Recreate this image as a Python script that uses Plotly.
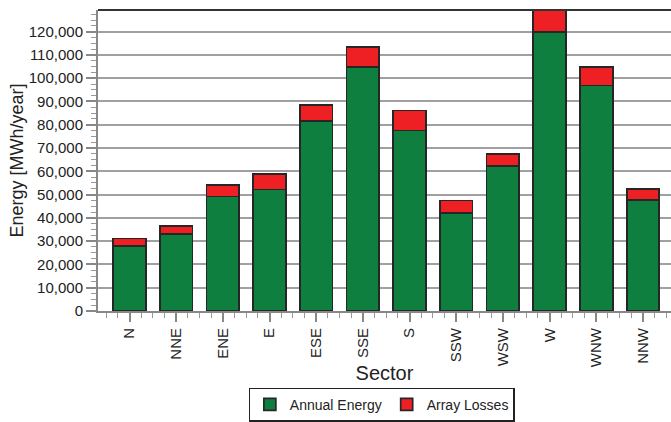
import plotly.graph_objects as go

sectors = ["N", "NNE", "ENE", "E", "ESE", "SSE", "S", "SSW", "WSW", "W", "WNW", "NNW"]
annual_energy = [28000, 33200, 49200, 52200, 81500, 104700, 77500, 42100, 62200, 120000, 96900, 47800]
total_energy = [31200, 36500, 54200, 58900, 88600, 113300, 86100, 47500, 67500, 131000, 104700, 52400]
array_losses = [t - a for t, a in zip(total_energy, annual_energy)]

x_pos = list(range(len(sectors)))

GREEN = "#0f7f3f"
RED = "#ee2024"
OUTLINE = "#262626"
FONT = "Arial"

fig = go.Figure()
fig.add_trace(go.Bar(x=x_pos, y=annual_energy, name="Annual Energy",
                     marker=dict(color=GREEN, line=dict(color=OUTLINE, width=1.7))))
fig.add_trace(go.Bar(x=x_pos, y=array_losses, name="Array Losses",
                     marker=dict(color=RED, line=dict(color=OUTLINE, width=1.7))))

fig.update_layout(
    width=671, height=422,
    margin=dict(l=98, r=0, t=10, b=111, autoexpand=False),
    barmode="stack", bargap=0.3,
    plot_bgcolor="white", paper_bgcolor="white",
    font=dict(family=FONT, color="#222", size=15),
    showlegend=True,
    legend=dict(orientation="h", x=0.495, xanchor="center", y=-0.3675, yanchor="bottom",
                bordercolor="#222", borderwidth=1.2, font=dict(size=14, color="#222"),
                itemwidth=30, traceorder="normal", tracegroupgap=0),
    xaxis=dict(
        range=[-0.675, 11.6], tickmode="array", tickvals=x_pos, ticktext=sectors,
        tickangle=-90, ticks="outside", ticklen=9, tickwidth=1.5, tickcolor="#888",
        showline=True, linecolor="#888", linewidth=2, showgrid=False, zeroline=False,
        automargin=False,
        tickfont=dict(size=15, color="#222"),
        title=dict(text="Sector", font=dict(size=20, color="#222"), standoff=0),
        minor=dict(dtick=0.25, tick0=0, ticks="outside", ticklen=5, tickwidth=1.2,
                   tickcolor="#999", showgrid=False),
    ),
    yaxis=dict(
        range=[0, 129300], dtick=10000, tick0=0, tickformat=",",
        ticks="outside", ticklen=10, tickwidth=1.5, tickcolor="#888",
        showline=True, linecolor="#888", linewidth=2,
        showgrid=True, gridcolor="#a0a0a0", gridwidth=1.6, zeroline=False,
        automargin=False,
        tickfont=dict(size=15, color="#222"),
        title=dict(text="Energy [MWh/year]", font=dict(size=18, color="#222"), standoff=0),
        minor=dict(dtick=2500, tick0=0, ticks="outside", ticklen=5, tickwidth=1.2,
                   tickcolor="#999", showgrid=False),
    ),
    shapes=[dict(type="line", xref="paper", yref="paper", x0=0, x1=1, y0=1, y1=1,
                 line=dict(color="#333", width=2))],
)

fig.write_html("out.html")
